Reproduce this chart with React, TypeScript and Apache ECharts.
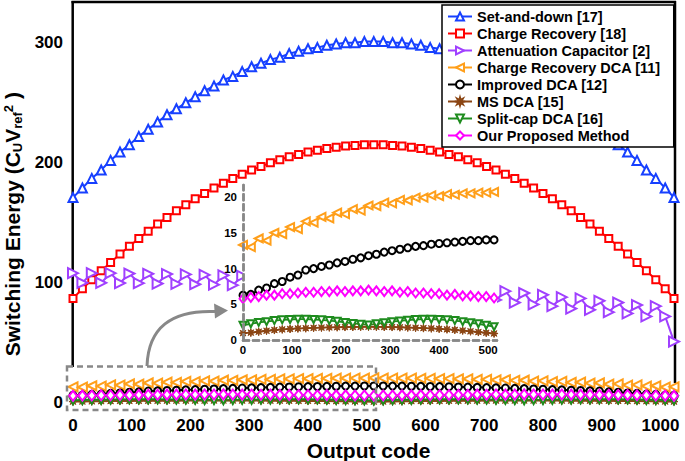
import React, { useEffect, useRef } from 'react';
import * as echarts from 'echarts';

const codes = [0,16,32,48,64,80,96,112,128,144,160,176,192,208,224,240,256,272,288,304,320,336,352,368,384,400,416,432,448,464,480,496,512,528,544,560,576,592,608,624,640,656,672,688,704,720,736,752,768,784,800,816,832,848,864,880,896,912,928,944,960,976,992,1008,1023];

const setAndDown = [171,179,187,194,202,209,215,222,228,234,240,245,250,255,260,264,269,272,276,280,283,286,288,291,293,295,296,298,299,300,300,301,301,301,300,300,299,298,296,295,293,291,288,286,283,280,276,272,269,264,260,255,250,245,240,234,228,222,215,209,202,194,187,179,171];
const chargeRecovery = [87,95,102.5,110,117,124,130.5,137,143,149,154.5,160,165,170,174.5,179,183,187,190.5,194,197,200,202.5,205,207,209,210.5,212,213,214,214.5,215,215,215,214.5,214,213,212,210.5,209,207,205,202.5,200,197,194,190.5,187,183,179,174.5,170,165,160,154.5,149,143,137,130.5,124,117,110,102.5,95,87];
const attenuation = [108,100,108,100,108,99.8,107.7,99.7,107.5,99.4,107.3,99.1,107,98.8,106.6,98.4,106.2,98,105.7,97.4,105.2,96.9,104.6,96.3,103.9,95.6,103.2,94.8,102.4,94,101.6,93.2,100.8,92.3,99.8,91.3,98.8,90.3,97.8,89.2,96.7,88.1,95.5,86.9,94.3,85.7,93,83.5,91.5,82,90,80.5,88,78.5,87,77.5,85,75.5,83.5,74.5,81.5,72,80.5,72,51];
const chargeRecoveryDCA = [13.3,13.0,14.2,13.9,15.0,14.8,15.8,15.5,16.6,16.4,17.2,17.0,17.8,17.6,18.3,18.1,18.8,18.7,19.2,19.1,19.6,19.5,19.9,19.9,20.2,20.1,20.4,20.3,20.5,20.5,20.6,20.6,20.7,20.6,20.6,20.5,20.5,20.3,20.4,20.1,20.2,19.9,19.9,19.5,19.6,19.1,19.2,18.7,18.8,18.1,18.3,17.6,17.8,17.0,17.2,16.4,16.6,15.5,15.8,14.8,15.0,13.9,14.2,13.0,13.3];
const improvedDCA = [6.3,6.4,7.0,7.3,7.9,8.2,8.8,9.1,9.8,10.0,10.3,10.5,10.8,11.0,11.3,11.5,11.8,12.0,12.3,12.5,12.7,12.9,13.1,13.2,13.4,13.5,13.6,13.7,13.8,13.9,13.9,14.0,14.0,14.0,13.9,13.9,13.8,13.7,13.6,13.5,13.4,13.2,13.1,12.9,12.7,12.5,12.3,12.0,11.8,11.5,11.3,11.0,10.8,10.5,10.3,10.0,9.8,9.1,8.8,8.2,7.9,7.3,7.0,6.4,6.3];
const msDCA = [1.0,1.07,1.2,1.33,1.43,1.52,1.58,1.65,1.68,1.74,1.77,1.8,1.82,1.85,1.86,1.88,1.9,1.88,1.86,1.85,1.82,1.78,1.75,1.7,1.66,1.6,1.53,1.45,1.36,1.25,1.15,1.05,0.95,1.05,1.15,1.25,1.36,1.45,1.53,1.6,1.66,1.7,1.75,1.78,1.82,1.85,1.86,1.88,1.9,1.88,1.86,1.85,1.82,1.8,1.77,1.74,1.68,1.65,1.58,1.52,1.43,1.33,1.2,1.07,1.0];
const splitCapDCA = [2.1,2.3,2.5,2.6,2.75,2.85,2.9,2.95,2.95,2.9,2.85,2.75,2.65,2.5,2.35,2.25,2.15,2.3,2.45,2.6,2.7,2.8,2.9,2.95,2.95,2.9,2.85,2.75,2.6,2.45,2.3,2.1,1.9,2.1,2.3,2.45,2.6,2.75,2.85,2.9,2.95,2.95,2.9,2.8,2.7,2.6,2.45,2.3,2.15,2.25,2.35,2.5,2.65,2.75,2.85,2.9,2.95,2.95,2.9,2.85,2.75,2.6,2.5,2.3,2.1];
const proposed = [5.8,6.0,6.1,6.3,6.3,6.5,6.5,6.6,6.7,6.7,6.8,6.8,6.9,6.8,6.9,6.9,7.0,6.9,6.8,6.9,6.7,6.8,6.6,6.6,6.5,6.5,6.3,6.4,6.2,6.2,6.1,6.1,5.9,6.1,6.1,6.2,6.2,6.4,6.3,6.5,6.5,6.6,6.6,6.8,6.7,6.9,6.8,6.9,7.0,6.9,6.9,6.8,6.9,6.8,6.8,6.7,6.7,6.6,6.5,6.5,6.3,6.3,6.1,6.0,5.8];

const xTicks = [0,100,200,300,400,500,600,700,800,900,1000];
const yTicks = [0,100,200,300];
const insetXTicks = [0,100,200,300,400,500];
const insetYTicks = [0,5,10,15,20];
const INSET_COUNT = 33; // codes 0..512

const FONT = '"Liberation Sans", Arial, sans-serif';
const STAR = 'path://M10,0 L4.16,1.72 L7.07,7.07 L1.72,4.16 L0,10 L-1.72,4.16 L-7.07,7.07 L-4.16,1.72 L-10,0 L-4.16,-1.72 L-7.07,-7.07 L-1.72,-4.16 L0,-10 L1.72,-4.16 L7.07,-7.07 L4.16,-1.72 Z';

type Def = { name: string; vals: number[]; color: string; symbol: string; size: any; rot: number; filled?: boolean; inset: boolean; insetSize: any };

const defs: Def[] = [
  { name: 'Set-and-down [17]', vals: setAndDown, color: '#1740ff', symbol: 'triangle', size: 9, rot: 0, inset: false, insetSize: 0 },
  { name: 'Charge Recovery [18]', vals: chargeRecovery, color: '#ff0000', symbol: 'rect', size: 7, rot: 0, inset: false, insetSize: 0 },
  { name: 'Attenuation Capacitor [2]', vals: attenuation, color: '#a040ff', symbol: 'triangle', size: 10, rot: -90, inset: false, insetSize: 0 },
  { name: 'Charge Recovery DCA [11]', vals: chargeRecoveryDCA, color: '#ff9f1a', symbol: 'triangle', size: 9, rot: 90, inset: true, insetSize: 8 },
  { name: 'Improved DCA [12]', vals: improvedDCA, color: '#000000', symbol: 'circle', size: 7, rot: 0, inset: true, insetSize: 7 },
  { name: 'MS DCA [15]', vals: msDCA, color: '#8b4513', symbol: STAR, size: 8, rot: 0, filled: true, inset: true, insetSize: 8 },
  { name: 'Split-cap DCA [16]', vals: splitCapDCA, color: '#1e8c1e', symbol: 'triangle', size: 8, rot: 180, inset: true, insetSize: 7 },
  { name: 'Our Proposed Method', vals: proposed, color: '#ff00ff', symbol: 'diamond', size: [8, 10], rot: 0, inset: true, insetSize: [7, 9] },
];

export default function App() {
  const ref = useRef<HTMLDivElement>(null);
  useEffect(() => {
    const chart = echarts.init(ref.current!, null, { renderer: 'svg' });
    const series: any[] = [];
    defs.forEach((d) => {
      series.push({
        name: d.name,
        type: 'line',
        xAxisIndex: 0,
        yAxisIndex: 0,
        data: codes.map((c, i) => [c, d.vals[i]]),
        symbol: d.symbol,
        symbolSize: d.size,
        symbolRotate: d.rot,
        showAllSymbol: true,
        lineStyle: { color: d.color, width: 2 },
        itemStyle: { color: d.filled ? d.color : '#fff', borderColor: d.color, borderWidth: d.filled ? 1 : 2 },
        z: 2,
        silent: true,
      });
    });
    defs.filter((d) => d.inset).forEach((d) => {
      series.push({
        name: d.name,
        type: 'line',
        xAxisIndex: 2,
        yAxisIndex: 2,
        data: codes.slice(0, INSET_COUNT).map((c, i) => [c, d.vals[i]]),
        symbol: d.symbol,
        symbolSize: d.insetSize,
        symbolRotate: d.rot,
        showAllSymbol: true,
        lineStyle: { color: d.color, width: 1.8 },
        itemStyle: { color: d.filled ? d.color : '#fff', borderColor: d.color, borderWidth: d.filled ? 1 : 2 },
        z: 5,
        silent: true,
      });
    });

    const labelStyle = { color: '#000', fontWeight: 'bold', fontFamily: FONT };
    const dashed = { color: '#888888', width: 2.5, type: [6, 4] };
    const plain = (v: number) => String(v);

    const option: any = {
      animation: false,
      legend: {
        data: defs.map((d) => d.name),
        orient: 'vertical',
        left: 442,
        top: 5,
        padding: [4, 13, 4, 5],
        itemWidth: 24,
        itemHeight: 10,
        itemGap: 2,
        backgroundColor: '#fff',
        borderColor: '#000',
        borderWidth: 1.5,
        selectedMode: false,
        z: 10,
        textStyle: { ...labelStyle, fontSize: 14.5, lineHeight: 14 },
      },
      grid: [
        { left: 73, top: 2, width: 601, height: 410.4, show: false, containLabel: false, outerBoundsMode: 'none' },
        { left: 243, top: 185, width: 254, height: 155.3, show: true, backgroundColor: '#fff', borderWidth: 0, z: 3, containLabel: false, outerBoundsMode: 'none' },
      ],
      xAxis: [
        {
          type: 'value', gridIndex: 0, min: 0, max: 1023, position: 'bottom',
          axisLine: { show: false }, axisTick: { show: false }, splitLine: { show: false },
          axisLabel: { ...labelStyle, fontSize: 17, margin: 5, customValues: xTicks, formatter: plain },
          name: 'Output code', nameLocation: 'middle', nameGap: 21,
          nameTextStyle: { ...labelStyle, fontSize: 21, lineHeight: 22, padding: [0, 10, 0, 0] },
        },
        {
          type: 'value', gridIndex: 0, min: 0, max: 1023, position: 'top', show: false,
        },
        {
          type: 'value', gridIndex: 1, min: 0, max: 518, position: 'bottom', z: 6,
          axisLine: { show: true, lineStyle: dashed }, axisTick: { show: false }, splitLine: { show: false },
          axisLabel: { ...labelStyle, fontSize: 11.5, margin: 4, customValues: insetXTicks, formatter: plain },
        },
        {
          type: 'value', gridIndex: 1, min: 0, max: 518, position: 'top', z: 6,
          axisLine: { show: true, lineStyle: dashed }, axisTick: { show: false }, splitLine: { show: false },
          axisLabel: { show: false },
        },
      ],
      yAxis: [
        {
          type: 'value', gridIndex: 0, min: -8, max: 334, position: 'left',
          axisLine: { show: false }, axisTick: { show: false }, splitLine: { show: false },
          axisLabel: { ...labelStyle, fontSize: 17, margin: 10, customValues: yTicks, formatter: plain },
          name: '{a|Switching Energy (C}{s|U}{a|V}{s|ref}{p|2}{a| )}',
          nameLocation: 'middle', nameRotate: 90, nameGap: 46,
          nameTextStyle: {
            ...labelStyle, fontSize: 21, padding: [0, 34, 0, 0],
            rich: {
              a: { ...labelStyle, fontSize: 21, lineHeight: 22 },
              s: { ...labelStyle, fontSize: 13, lineHeight: 11, verticalAlign: 'bottom' },
              p: { ...labelStyle, fontSize: 13, lineHeight: 16, verticalAlign: 'top' },
            },
          },
        },
        { type: 'value', gridIndex: 0, min: -8, max: 334, position: 'right', show: false },
        {
          type: 'value', gridIndex: 1, min: 0, max: 21.66, position: 'left', z: 6,
          axisLine: { show: true, lineStyle: dashed }, axisTick: { show: false }, splitLine: { show: false },
          axisLabel: { ...labelStyle, fontSize: 11.5, margin: 6, customValues: insetYTicks, formatter: plain },
        },
        {
          type: 'value', gridIndex: 1, min: 0, max: 21.66, position: 'right', z: 6,
          axisLine: { show: true, lineStyle: dashed }, axisTick: { show: false }, splitLine: { show: false },
          axisLabel: { show: false },
        },
      ],
      graphic: [
        { type: 'line', z: 1, shape: { x1: 71.5, y1: 2, x2: 676, y2: 2 }, style: { stroke: '#000', lineWidth: 2.5 } },
        { type: 'line', z: 1, shape: { x1: 72.7, y1: 1, x2: 72.7, y2: 367 }, style: { stroke: '#000', lineWidth: 2.5 } },
        { type: 'line', z: 1, shape: { x1: 675, y1: 1, x2: 675, y2: 383 }, style: { stroke: '#000', lineWidth: 2.5 } },
        { type: 'rect', z: 4, shape: { x: 67, y: 366.5, width: 309, height: 43.5 }, style: { fill: null, stroke: '#888888', lineWidth: 2.5, lineDash: [6, 4] } },
        { type: 'bezierCurve', z: 4, shape: { x1: 147, y1: 366, cpx1: 149, cpy1: 309, x2: 215, y2: 311.5 }, style: { fill: null, stroke: '#888888', lineWidth: 3 } },
        { type: 'polygon', z: 4, shape: { points: [[228, 310.5], [214, 303.5], [215, 318.5]] }, style: { fill: '#888888' } },
      ],
      series,
    };
    chart.setOption(option);
    return () => chart.dispose();
  }, []);
  return <div ref={ref} style={{ position: 'fixed', left: 0, top: 0, width: 685, height: 461, background: '#fff' }} />;
}
